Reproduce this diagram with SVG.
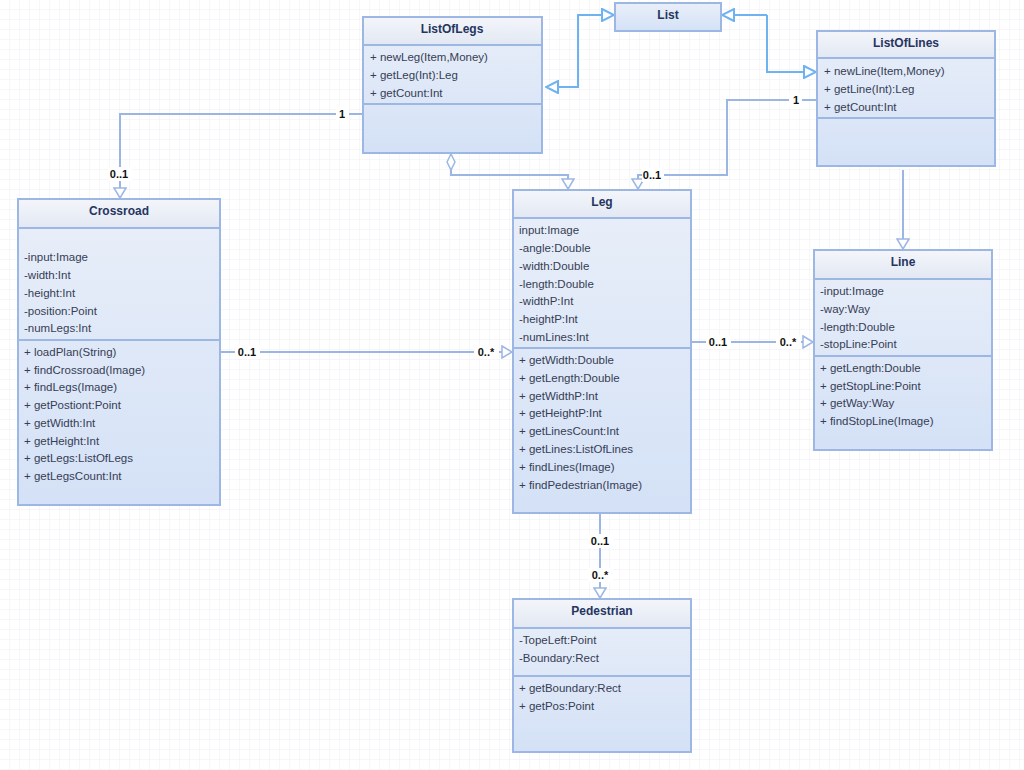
<svg xmlns="http://www.w3.org/2000/svg" width="1024" height="770" viewBox="0 0 1024 770">
<defs>
<pattern id="grid" width="10" height="10" patternUnits="userSpaceOnUse">
<path d="M10 0V10M0 10H10" fill="none" stroke="#efeff3" stroke-width="1"/>
</pattern>
<linearGradient id="box" x1="0" y1="0" x2="0" y2="1">
<stop offset="0" stop-color="#e9eff9"/>
<stop offset="1" stop-color="#d4e1f6"/>
</linearGradient>
<linearGradient id="head" x1="0" y1="0" x2="0" y2="1">
<stop offset="0" stop-color="#f3f5fa"/>
<stop offset="1" stop-color="#e2e8f3"/>
</linearGradient>
<marker id="tri" viewBox="0 0 14 14" refX="12" refY="7" markerWidth="14" markerHeight="14" markerUnits="userSpaceOnUse" orient="auto">
<path d="M2 1L12 7L2 13Z" fill="#ffffff" stroke="#9cb6e4" stroke-width="1.5"/>
</marker>
<marker id="triB" viewBox="0 0 14 14" refX="13" refY="7" markerWidth="14" markerHeight="14" markerUnits="userSpaceOnUse" orient="auto">
<path d="M1 1L13 7L1 13Z" fill="#ffffff" stroke="#6fb2f0" stroke-width="2"/>
</marker>
<marker id="dia" viewBox="0 0 18 10" refX="1" refY="5" markerWidth="18" markerHeight="10" markerUnits="userSpaceOnUse" orient="auto">
<path d="M1 5L9 1L17 5L9 9Z" fill="#ffffff" stroke="#9cb6e4" stroke-width="1.5"/>
</marker>
</defs>
<style>
.box{fill:url(#box);stroke:#9db7e4;stroke-width:2}
.hd{fill:url(#head);stroke:none}
.sep{stroke:#9db7e4;stroke-width:2}
.t{font-family:"Liberation Sans",Arial,sans-serif;font-size:12px;font-weight:bold;fill:#253560;text-anchor:middle}
.m{font-family:"Liberation Sans",Arial,sans-serif;font-size:11.5px;fill:#363d55}
.c{fill:none;stroke:#9cb6e4;stroke-width:2}
.cb{fill:none;stroke:#6fb2f0;stroke-width:2}
.l{font-family:"Liberation Sans",Arial,sans-serif;font-size:11px;font-weight:bold;fill:#111;text-anchor:middle}
.lb{fill:#ffffff}
</style>
<rect width="1024" height="770" fill="#ffffff"/>
<rect width="1024" height="770" fill="url(#grid)"/>

<g id="connectors">
<path class="cb" d="M547 87H578V15H614" marker-end="url(#triB)"/>
<path class="cb" d="M578 87H546" marker-end="url(#triB)"/>
<path class="cb" d="M767 15H722" marker-end="url(#triB)"/>
<path class="cb" d="M767 15V72H816" marker-end="url(#triB)"/>
<path class="c" d="M363 114H120V198" marker-end="url(#tri)"/>
<path class="c" d="M451 154V175H568V189" marker-start="url(#dia)" marker-end="url(#tri)"/>
<path class="c" d="M817 100H727V175H638V189" marker-end="url(#tri)"/>
<path class="c" d="M903 170V249" marker-end="url(#tri)"/>
<path class="c" d="M220 352H512" marker-end="url(#tri)"/>
<path class="c" d="M691 342H813" marker-end="url(#tri)"/>
<path class="c" d="M600 513V598" marker-end="url(#tri)"/>
<rect class="lb" x="336" y="107" width="13" height="14"/>
<text class="l" x="342" y="118">1</text>
<rect class="lb" x="108" y="167" width="24" height="14"/>
<text class="l" x="119" y="178">0..1</text>
<rect class="lb" x="642" y="168" width="22" height="14"/>
<text class="l" x="652" y="179">0..1</text>
<rect class="lb" x="789" y="93" width="13" height="14"/>
<text class="l" x="796" y="104">1</text>
<rect class="lb" x="235" y="345" width="25" height="14"/>
<text class="l" x="247" y="356">0..1</text>
<rect class="lb" x="474" y="345" width="25" height="14"/>
<text class="l" x="486" y="356">0..*</text>
<rect class="lb" x="706" y="335" width="25" height="14"/>
<text class="l" x="718" y="346">0..1</text>
<rect class="lb" x="776" y="335" width="25" height="14"/>
<text class="l" x="788" y="346">0..*</text>
<rect class="lb" x="588" y="534" width="25" height="14"/>
<text class="l" x="600" y="545">0..1</text>
<rect class="lb" x="588" y="568" width="25" height="14"/>
<text class="l" x="600" y="579">0..*</text>
</g>

<g id="List">
<rect class="box" x="615" y="3" width="106" height="28"/>
<text class="t" x="668" y="19">List</text>
</g>

<g id="ListOfLegs">
<rect class="box" x="363" y="17" width="179" height="136"/>
<rect class="hd" x="364" y="18" width="177" height="27"/>
<line class="sep" x1="363" y1="45" x2="542" y2="45"/>
<line class="sep" x1="363" y1="104" x2="542" y2="104"/>
<text class="t" x="452" y="33">ListOfLegs</text>
<text class="m" x="370" y="61">+ newLeg(Item,Money)</text>
<text class="m" x="370" y="79">+ getLeg(Int):Leg</text>
<text class="m" x="370" y="97">+ getCount:Int</text>
</g>

<g id="ListOfLines">
<rect class="box" x="817" y="31" width="178" height="135"/>
<rect class="hd" x="818" y="32" width="176" height="26"/>
<line class="sep" x1="817" y1="58" x2="995" y2="58"/>
<line class="sep" x1="817" y1="118" x2="995" y2="118"/>
<text class="t" x="906" y="47">ListOfLines</text>
<text class="m" x="824" y="75">+ newLine(Item,Money)</text>
<text class="m" x="824" y="93">+ getLine(Int):Leg</text>
<text class="m" x="824" y="111">+ getCount:Int</text>
</g>

<g id="Crossroad">
<rect class="box" x="18" y="199" width="202" height="306"/>
<rect class="hd" x="19" y="200" width="200" height="28"/>
<line class="sep" x1="18" y1="228" x2="220" y2="228"/>
<line class="sep" x1="18" y1="340" x2="220" y2="340"/>
<text class="t" x="119" y="215">Crossroad</text>
<text class="m" x="24" y="261">-input:Image</text>
<text class="m" x="24" y="279">-width:Int</text>
<text class="m" x="24" y="297">-height:Int</text>
<text class="m" x="24" y="315">-position:Point</text>
<text class="m" x="24" y="332">-numLegs:Int</text>
<text class="m" x="24" y="356">+ loadPlan(String)</text>
<text class="m" x="24" y="374">+ findCrossroad(Image)</text>
<text class="m" x="24" y="391">+ findLegs(Image)</text>
<text class="m" x="24" y="409">+ getPostiont:Point</text>
<text class="m" x="24" y="427">+ getWidth:Int</text>
<text class="m" x="24" y="445">+ getHeight:Int</text>
<text class="m" x="24" y="462">+ getLegs:ListOfLegs</text>
<text class="m" x="24" y="480">+ getLegsCount:Int</text>
</g>

<g id="Leg">
<rect class="box" x="513" y="190" width="178" height="323"/>
<rect class="hd" x="514" y="191" width="176" height="27"/>
<line class="sep" x1="513" y1="218" x2="691" y2="218"/>
<line class="sep" x1="513" y1="348" x2="691" y2="348"/>
<text class="t" x="602" y="206">Leg</text>
<text class="m" x="519" y="234">input:Image</text>
<text class="m" x="519" y="252">-angle:Double</text>
<text class="m" x="519" y="270">-width:Double</text>
<text class="m" x="519" y="288">-length:Double</text>
<text class="m" x="519" y="305">-widthP:Int</text>
<text class="m" x="519" y="323">-heightP:Int</text>
<text class="m" x="519" y="341">-numLines:Int</text>
<text class="m" x="519" y="364">+ getWidth:Double</text>
<text class="m" x="519" y="382">+ getLength:Double</text>
<text class="m" x="519" y="400">+ getWidthP:Int</text>
<text class="m" x="519" y="417">+ getHeightP:Int</text>
<text class="m" x="519" y="435">+ getLinesCount:Int</text>
<text class="m" x="519" y="453">+ getLines:ListOfLines</text>
<text class="m" x="519" y="471">+ findLines(Image)</text>
<text class="m" x="519" y="489">+ findPedestrian(Image)</text>
</g>

<g id="Line">
<rect class="box" x="814" y="250" width="178" height="200"/>
<rect class="hd" x="815" y="251" width="176" height="28"/>
<line class="sep" x1="814" y1="279" x2="992" y2="279"/>
<line class="sep" x1="814" y1="356" x2="992" y2="356"/>
<text class="t" x="903" y="266">Line</text>
<text class="m" x="820" y="295">-input:Image</text>
<text class="m" x="820" y="313">-way:Way</text>
<text class="m" x="820" y="331">-length:Double</text>
<text class="m" x="820" y="348">-stopLine:Point</text>
<text class="m" x="820" y="372">+ getLength:Double</text>
<text class="m" x="820" y="390">+ getStopLine:Point</text>
<text class="m" x="820" y="407">+ getWay:Way</text>
<text class="m" x="820" y="425">+ findStopLine(Image)</text>
</g>

<g id="Pedestrian">
<rect class="box" x="513" y="599" width="178" height="153"/>
<rect class="hd" x="514" y="600" width="176" height="28"/>
<line class="sep" x1="513" y1="628" x2="691" y2="628"/>
<line class="sep" x1="513" y1="676" x2="691" y2="676"/>
<text class="t" x="602" y="615">Pedestrian</text>
<text class="m" x="519" y="644">-TopeLeft:Point</text>
<text class="m" x="519" y="662">-Boundary:Rect</text>
<text class="m" x="519" y="692">+ getBoundary:Rect</text>
<text class="m" x="519" y="710">+ getPos:Point</text>
</g>
</svg>
